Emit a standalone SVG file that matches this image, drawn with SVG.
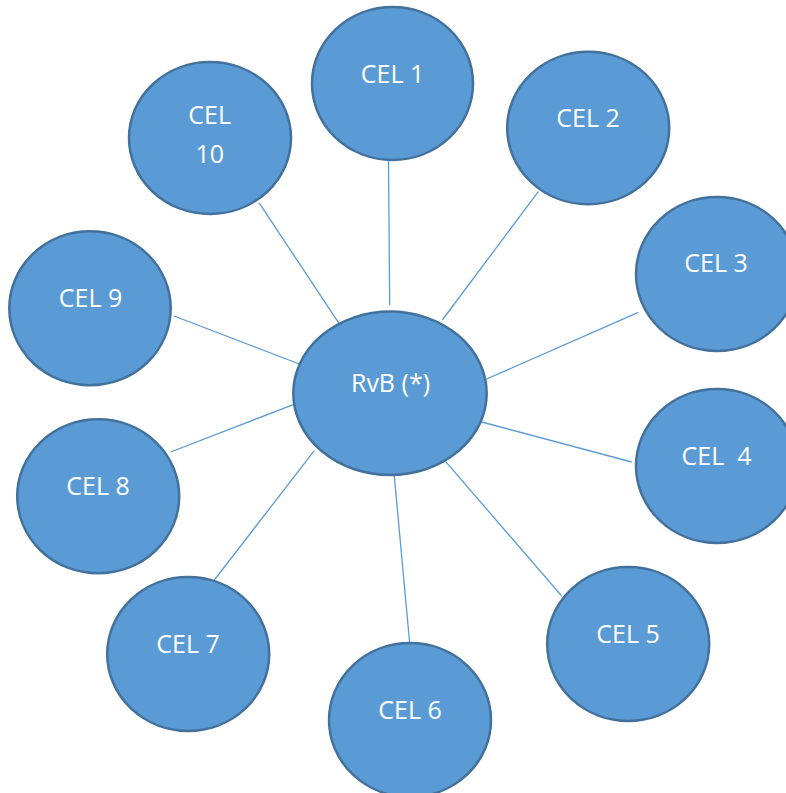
<svg xmlns="http://www.w3.org/2000/svg" width="786" height="793" viewBox="0 0 786 793">
  <style>
    .node { fill: #5B9BD5; stroke: #41719C; stroke-width: 2.5; }
    .label { fill: #FFFFFF; font-family: "Open Sans", "Liberation Sans", sans-serif; font-size: 25px; text-anchor: middle; }
    .link { stroke: #5B9BD5; stroke-width: 1.3; fill: none; }
  </style>
  <rect width="786" height="793" fill="#FFFFFF"/>

  <!-- spokes from the centre to each outer circle -->
  <g id="connectors">
    <line class="link" x1="388.5" y1="160" x2="389.7" y2="305"/>
    <line class="link" x1="538.3" y1="191.7" x2="442.3" y2="320"/>
    <line class="link" x1="638.3" y1="312.3" x2="486.7" y2="379"/>
    <line class="link" x1="631.7" y1="462" x2="481.7" y2="422"/>
    <line class="link" x1="561.7" y1="596" x2="445.7" y2="461.7"/>
    <line class="link" x1="409.7" y1="643.3" x2="394.3" y2="476"/>
    <line class="link" x1="214.3" y1="580" x2="314.3" y2="450.7"/>
    <line class="link" x1="170.7" y1="452" x2="294" y2="404.3"/>
    <line class="link" x1="174" y1="316" x2="299.3" y2="364"/>
    <line class="link" x1="259" y1="202.7" x2="339" y2="323.3"/>
  </g>

  <g id="rvb">
    <ellipse class="node" cx="390" cy="393.3" rx="96.7" ry="81.7"/>
    <text class="label" x="390.5" y="391.5">RvB (*)</text>
  </g>
  <g id="cel1">
    <ellipse class="node" cx="392.5" cy="83.5" rx="80.5" ry="76.5"/>
    <text class="label" x="392.5" y="82.5">CEL 1</text>
  </g>
  <g id="cel2">
    <ellipse class="node" cx="588.2" cy="128" rx="81" ry="76.3"/>
    <text class="label" x="588" y="127">CEL 2</text>
  </g>
  <g id="cel3">
    <ellipse class="node" cx="717" cy="274" rx="81" ry="77"/>
    <text class="label" x="716" y="272">CEL 3</text>
  </g>
  <g id="cel4">
    <ellipse class="node" cx="717" cy="466" rx="81" ry="77"/>
    <text class="label" x="716.5" y="465" xml:space="preserve">CEL  4</text>
  </g>
  <g id="cel5">
    <ellipse class="node" cx="628.2" cy="644" rx="81" ry="77"/>
    <text class="label" x="628" y="642.7">CEL 5</text>
  </g>
  <g id="cel6">
    <ellipse class="node" cx="410" cy="720" rx="81" ry="77"/>
    <text class="label" x="410" y="719">CEL 6</text>
  </g>
  <g id="cel7">
    <ellipse class="node" cx="188.2" cy="654" rx="81" ry="77"/>
    <text class="label" x="188" y="652.7">CEL 7</text>
  </g>
  <g id="cel8">
    <ellipse class="node" cx="98.2" cy="496.3" rx="81" ry="77"/>
    <text class="label" x="98" y="495">CEL 8</text>
  </g>
  <g id="cel9">
    <ellipse class="node" cx="90" cy="308.3" rx="80.7" ry="77"/>
    <text class="label" x="90.5" y="307">CEL 9</text>
  </g>
  <g id="cel10">
    <ellipse class="node" cx="210" cy="138" rx="81" ry="76"/>
    <text class="label" x="209.7" y="124">CEL</text>
    <text class="label" x="209.7" y="163">10</text>
  </g>
</svg>
